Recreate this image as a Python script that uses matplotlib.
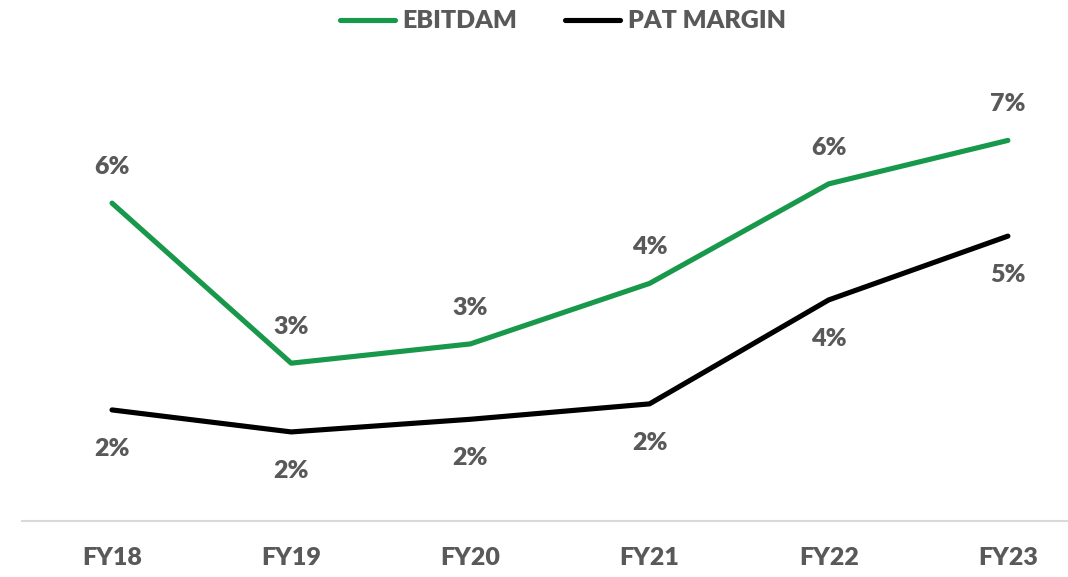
import matplotlib.pyplot as plt

plt.rcParams['font.family'] = ['Lato', 'DejaVu Sans']
plt.rcParams['font.weight'] = 'heavy'

years = ['FY18', 'FY19', 'FY20', 'FY21', 'FY22', 'FY23']
ebitdam = [5.78, 2.87, 3.22, 4.32, 6.13, 6.92]
pat_margin = [2.02, 1.62, 1.85, 2.13, 4.02, 5.18]
ebitdam_labels = ['6%', '3%', '3%', '4%', '6%', '7%']
pat_labels = ['2%', '2%', '2%', '2%', '4%', '5%']

green = '#17984B'
text_color = '#595959'

fig = plt.figure(figsize=(10.68, 5.77), dpi=100)
ax = fig.add_axes([0.021, 0.097, 1.0066, 0.7626])

x = list(range(len(years)))
ax.plot(x, ebitdam, color=green, linewidth=3.7, label='EBITDAM', solid_capstyle='round')
ax.plot(x, pat_margin, color='black', linewidth=3.7, label='PAT MARGIN', solid_capstyle='round')

for i in x:
    ax.annotate(ebitdam_labels[i], (i, ebitdam[i]), xytext=(0, 26), textcoords='offset points',
                ha='center', va='center', fontsize=18, color=text_color, fontweight='heavy')
    ax.annotate(pat_labels[i], (i, pat_margin[i]), xytext=(0, -28), textcoords='offset points',
                ha='center', va='center', fontsize=18, color=text_color, fontweight='heavy')

ax.set_xlim(-0.5, 5.5)
ax.set_ylim(0, 8)
ax.set_xticks(x)
ax.set_xticklabels(years, fontsize=18, color=text_color, fontweight='heavy')
ax.tick_params(axis='x', length=0, pad=19)
ax.set_yticks([])
for s in ['top', 'right', 'left']:
    ax.spines[s].set_visible(False)
ax.spines['bottom'].set_color('#D9D9D9')
ax.spines['bottom'].set_linewidth(1.5)

leg = fig.legend(loc='center', bbox_to_anchor=(0.527, 0.963), ncol=2, frameon=False,
                 fontsize=18, handlelength=2.2, handletextpad=0.3, columnspacing=1.9)
for t in leg.get_texts():
    t.set_color(text_color)

fig.savefig('out.png', dpi=100)
